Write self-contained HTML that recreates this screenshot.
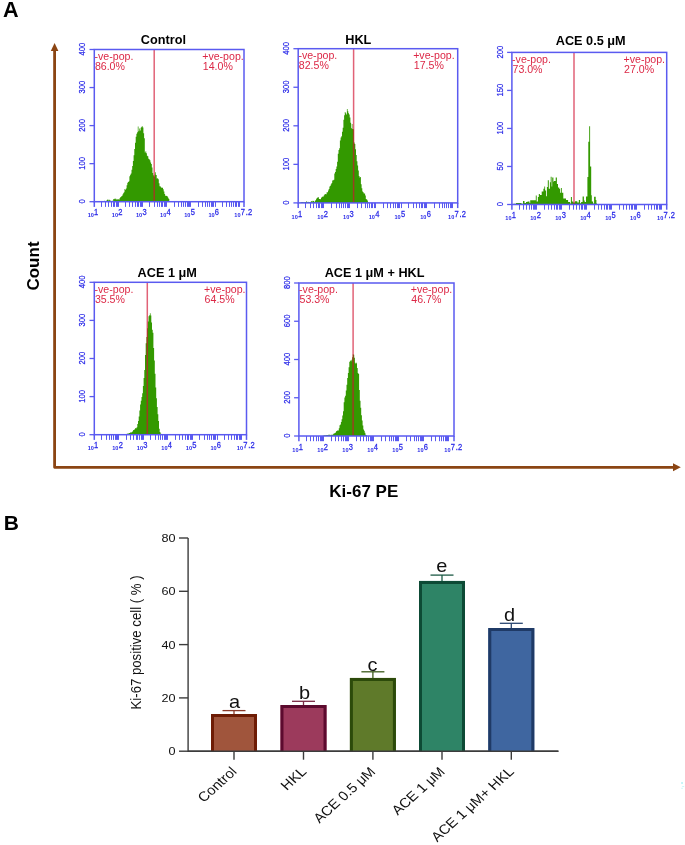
<!DOCTYPE html>
<html><head><meta charset="utf-8"><style>
html,body{margin:0;padding:0;background:#fff;}
svg{will-change:transform;}
body{width:685px;height:845px;position:relative;overflow:hidden;font-family:"Liberation Sans", sans-serif;}
</style></head><body>
<svg width="685" height="845" viewBox="0 0 685 845" style="position:absolute;left:0;top:0">
<text x="2.9" y="16.8" font-family='"Liberation Sans", sans-serif' font-weight="bold" font-size="21.6" fill="#000">A</text>
<text x="3.8" y="530.1" font-family='"Liberation Sans", sans-serif' font-weight="bold" font-size="21" fill="#000">B</text>
<path d="M54.6,50 L54.6,467.3 L673.5,467.3" fill="none" stroke="#8b4513" stroke-width="2.8" stroke-linejoin="round"/>
<path d="M50.8,51 L54.6,43 L58.4,51 Z" fill="#8b4513"/>
<path d="M673,463.3 L680.8,467.3 L673,471.2 Z" fill="#8b4513"/>
<text x="0" y="0" transform="translate(39.3,266) rotate(-90)" text-anchor="middle" font-family='"Liberation Sans", sans-serif' font-weight="bold" font-size="17" fill="#000">Count</text>
<text x="363.8" y="497.2" text-anchor="middle" font-family='"Liberation Sans", sans-serif' font-weight="bold" font-size="17" fill="#000">Ki-67 PE</text>
<path d="M103.50,201.70L103.50,201.00L104.20,201.00L104.20,200.78L104.90,200.78L104.90,200.89L105.60,200.89L105.60,200.99L106.30,200.99L106.30,200.52L107.00,200.52L107.00,199.76L107.70,199.76L107.70,199.59L108.40,199.59L108.40,200.53L109.10,200.53L109.10,199.87L109.80,199.87L109.80,200.57L110.50,200.57L110.50,200.68L111.20,200.68L111.20,200.88L111.90,200.88L111.90,201.12L112.60,201.12L112.60,200.40L113.30,200.40L113.30,199.11L114.00,199.11L114.00,198.65L114.70,198.65L114.70,199.25L115.40,199.25L115.40,198.56L116.10,198.56L116.10,199.41L116.80,199.41L116.80,199.36L117.50,199.36L117.50,199.38L118.20,199.38L118.20,199.35L118.90,199.35L118.90,199.42L119.60,199.42L119.60,197.90L120.30,197.90L120.30,196.99L121.00,196.99L121.00,196.50L121.70,196.50L121.70,195.94L122.40,195.94L122.40,194.53L123.10,194.53L123.10,193.32L123.80,193.32L123.80,192.27L124.50,192.27L124.50,189.10L125.20,189.10L125.20,189.67L125.90,189.67L125.90,188.41L126.60,188.41L126.60,185.35L127.30,185.35L127.30,182.73L128.00,182.73L128.00,182.07L128.70,182.07L128.70,181.16L129.40,181.16L129.40,176.14L130.10,176.14L130.10,174.71L130.80,174.71L130.80,173.39L131.50,173.39L131.50,169.82L132.20,169.82L132.20,165.88L132.90,165.88L132.90,161.07L133.60,161.07L133.60,155.23L134.30,155.23L134.30,148.92L135.00,148.92L135.00,142.65L135.70,142.65L135.70,136.80L136.40,136.80L136.40,133.84L137.10,133.84L137.10,132.13L137.80,132.13L137.80,126.38L138.50,126.38L138.50,131.34L139.20,131.34L139.20,128.57L139.90,128.57L139.90,130.62L140.60,130.62L140.60,127.82L141.30,127.82L141.30,126.80L142.00,126.80L142.00,126.21L142.70,126.21L142.70,127.48L143.40,127.48L143.40,133.30L144.10,133.30L144.10,138.21L144.80,138.21L144.80,152.47L145.50,152.47L145.50,151.27L146.20,151.27L146.20,153.34L146.90,153.34L146.90,155.66L147.60,155.66L147.60,156.21L148.30,156.21L148.30,158.73L149.00,158.73L149.00,159.15L149.70,159.15L149.70,160.20L150.40,160.20L150.40,162.59L151.10,162.59L151.10,163.90L151.80,163.90L151.80,167.48L152.50,167.48L152.50,172.99L153.20,172.99L153.20,175.27L153.90,175.27L153.90,176.53L154.60,176.53L154.60,174.78L155.30,174.78L155.30,172.29L156.00,172.29L156.00,174.88L156.70,174.88L156.70,178.41L157.40,178.41L157.40,178.17L158.10,178.17L158.10,179.18L158.80,179.18L158.80,183.23L159.50,183.23L159.50,186.18L160.20,186.18L160.20,186.57L160.90,186.57L160.90,187.52L161.60,187.52L161.60,187.75L162.30,187.75L162.30,187.80L163.00,187.80L163.00,189.34L163.70,189.34L163.70,191.57L164.40,191.57L164.40,194.10L165.10,194.10L165.10,195.74L165.80,195.74L165.80,195.69L166.50,195.69L166.50,196.00L167.20,196.00L167.20,196.38L167.90,196.38L167.90,197.84L168.60,197.84L168.60,198.93L169.30,198.93L169.30,201.10L169.80,201.10L169.80,201.70Z" fill="#339900"/>
<line x1="154.2" y1="49.5" x2="154.2" y2="201.7" stroke="rgb(209,17,48)" stroke-opacity="0.66" stroke-width="1.5"/>
<rect x="94.3" y="49.5" width="149.70" height="152.20" fill="none" stroke="#5a5af0" stroke-width="1.5"/>
<line x1="94.3" y1="201.7" x2="94.3" y2="206.89999999999998" stroke="#5a5af0" stroke-width="1.5"/>
<line x1="244.0" y1="201.7" x2="244.0" y2="206.89999999999998" stroke="#5a5af0" stroke-width="1.5"/>
<line x1="89.50" y1="201.70" x2="94.3" y2="201.70" stroke="#5a5af0" stroke-width="1.3"/>
<text transform="translate(84.90,201.40) rotate(-90) scale(0.83,1)" text-anchor="middle" font-family='"Liberation Sans", sans-serif' font-size="9.2" fill="#2a2ae8" stroke="#2a2ae8" stroke-width="0.25">0</text>
<line x1="89.50" y1="163.65" x2="94.3" y2="163.65" stroke="#5a5af0" stroke-width="1.3"/>
<text transform="translate(84.90,163.35) rotate(-90) scale(0.83,1)" text-anchor="middle" font-family='"Liberation Sans", sans-serif' font-size="9.2" fill="#2a2ae8" stroke="#2a2ae8" stroke-width="0.25">100</text>
<line x1="89.50" y1="125.60" x2="94.3" y2="125.60" stroke="#5a5af0" stroke-width="1.3"/>
<text transform="translate(84.90,125.30) rotate(-90) scale(0.83,1)" text-anchor="middle" font-family='"Liberation Sans", sans-serif' font-size="9.2" fill="#2a2ae8" stroke="#2a2ae8" stroke-width="0.25">200</text>
<line x1="89.50" y1="87.55" x2="94.3" y2="87.55" stroke="#5a5af0" stroke-width="1.3"/>
<text transform="translate(84.90,87.25) rotate(-90) scale(0.83,1)" text-anchor="middle" font-family='"Liberation Sans", sans-serif' font-size="9.2" fill="#2a2ae8" stroke="#2a2ae8" stroke-width="0.25">300</text>
<line x1="89.50" y1="49.50" x2="94.3" y2="49.50" stroke="#5a5af0" stroke-width="1.3"/>
<text transform="translate(84.90,49.20) rotate(-90) scale(0.83,1)" text-anchor="middle" font-family='"Liberation Sans", sans-serif' font-size="9.2" fill="#2a2ae8" stroke="#2a2ae8" stroke-width="0.25">400</text>
<path d="M101.50,201.7V206.90M105.50,201.7V206.90M108.50,201.7V206.90M111.50,201.7V206.90M113.50,201.7V206.90M114.50,201.7V206.90M116.50,201.7V206.90M117.50,201.7V206.90M118.50,201.7V206.90M125.50,201.7V206.90M129.50,201.7V206.90M132.50,201.7V206.90M135.50,201.7V206.90M137.50,201.7V206.90M138.50,201.7V206.90M140.50,201.7V206.90M141.50,201.7V206.90M142.50,201.7V206.90M149.50,201.7V206.90M154.50,201.7V206.90M157.50,201.7V206.90M159.50,201.7V206.90M161.50,201.7V206.90M162.50,201.7V206.90M164.50,201.7V206.90M165.50,201.7V206.90M166.50,201.7V206.90M174.50,201.7V206.90M178.50,201.7V206.90M181.50,201.7V206.90M183.50,201.7V206.90M185.50,201.7V206.90M187.50,201.7V206.90M188.50,201.7V206.90M189.50,201.7V206.90M190.50,201.7V206.90M198.50,201.7V206.90M202.50,201.7V206.90M205.50,201.7V206.90M207.50,201.7V206.90M209.50,201.7V206.90M211.50,201.7V206.90M212.50,201.7V206.90M213.50,201.7V206.90M215.50,201.7V206.90M222.50,201.7V206.90M226.50,201.7V206.90M229.50,201.7V206.90M231.50,201.7V206.90M233.50,201.7V206.90M235.50,201.7V206.90M236.50,201.7V206.90M238.50,201.7V206.90M239.50,201.7V206.90" stroke="#5a5af0" stroke-width="1" fill="none"/>
<text x="93.90" y="217.30" text-anchor="end" font-family='"Liberation Sans", sans-serif' font-weight="bold" font-size="5.6" fill="#2a2ae8">10</text>
<text transform="translate(94.10,215.30) scale(0.86,1)" font-family='"Liberation Sans", sans-serif' font-size="8.8" fill="#2a2ae8" stroke="#2a2ae8" stroke-width="0.25">1</text>
<text x="118.05" y="217.30" text-anchor="end" font-family='"Liberation Sans", sans-serif' font-weight="bold" font-size="5.6" fill="#2a2ae8">10</text>
<text transform="translate(118.25,215.30) scale(0.86,1)" font-family='"Liberation Sans", sans-serif' font-size="8.8" fill="#2a2ae8" stroke="#2a2ae8" stroke-width="0.25">2</text>
<text x="142.19" y="217.30" text-anchor="end" font-family='"Liberation Sans", sans-serif' font-weight="bold" font-size="5.6" fill="#2a2ae8">10</text>
<text transform="translate(142.39,215.30) scale(0.86,1)" font-family='"Liberation Sans", sans-serif' font-size="8.8" fill="#2a2ae8" stroke="#2a2ae8" stroke-width="0.25">3</text>
<text x="166.34" y="217.30" text-anchor="end" font-family='"Liberation Sans", sans-serif' font-weight="bold" font-size="5.6" fill="#2a2ae8">10</text>
<text transform="translate(166.54,215.30) scale(0.86,1)" font-family='"Liberation Sans", sans-serif' font-size="8.8" fill="#2a2ae8" stroke="#2a2ae8" stroke-width="0.25">4</text>
<text x="190.48" y="217.30" text-anchor="end" font-family='"Liberation Sans", sans-serif' font-weight="bold" font-size="5.6" fill="#2a2ae8">10</text>
<text transform="translate(190.68,215.30) scale(0.86,1)" font-family='"Liberation Sans", sans-serif' font-size="8.8" fill="#2a2ae8" stroke="#2a2ae8" stroke-width="0.25">5</text>
<text x="214.63" y="217.30" text-anchor="end" font-family='"Liberation Sans", sans-serif' font-weight="bold" font-size="5.6" fill="#2a2ae8">10</text>
<text transform="translate(214.83,215.30) scale(0.86,1)" font-family='"Liberation Sans", sans-serif' font-size="8.8" fill="#2a2ae8" stroke="#2a2ae8" stroke-width="0.25">6</text>
<text x="240.60" y="217.30" text-anchor="end" font-family='"Liberation Sans", sans-serif' font-weight="bold" font-size="5.6" fill="#2a2ae8">10</text>
<text transform="translate(240.80,215.30) scale(0.86,1)" font-family='"Liberation Sans", sans-serif' font-size="8.8" fill="#2a2ae8" stroke="#2a2ae8" stroke-width="0.25">7<tspan dx="1">.2</tspan></text>
<text x="94.50" y="59.90" font-family='"Liberation Sans", sans-serif' font-size="10.6" fill="#dc2846">-ve-pop.</text>
<text x="94.90" y="69.70" font-family='"Liberation Sans", sans-serif' font-size="10.6" fill="#dc2846">86.0%</text>
<text x="202.21" y="59.90" font-family='"Liberation Sans", sans-serif' font-size="10.6" fill="#dc2846">+ve-pop.</text>
<text x="202.81" y="69.70" font-family='"Liberation Sans", sans-serif' font-size="10.6" fill="#dc2846">14.0%</text>
<text x="163.4" y="44.3" text-anchor="middle" font-family='"Liberation Sans", sans-serif' font-weight="bold" font-size="12.7" fill="#000">Control</text>
<path d="M300.00,202.90L300.00,202.71L300.70,202.71L300.70,202.32L301.40,202.32L301.40,201.94L302.10,201.94L302.10,201.94L302.80,201.94L302.80,202.15L303.50,202.15L303.50,202.35L304.20,202.35L304.20,202.25L304.90,202.25L304.90,202.07L305.60,202.07L305.60,201.88L306.30,201.88L306.30,201.31L307.00,201.31L307.00,202.32L307.70,202.32L307.70,201.81L308.40,201.81L308.40,201.95L309.10,201.95L309.10,202.09L309.80,202.09L309.80,202.13L310.50,202.13L310.50,201.78L311.20,201.78L311.20,200.90L311.90,200.90L311.90,201.50L312.60,201.50L312.60,200.68L313.30,200.68L313.30,200.96L314.00,200.96L314.00,202.06L314.70,202.06L314.70,200.89L315.40,200.89L315.40,200.10L316.10,200.10L316.10,198.69L316.80,198.69L316.80,197.98L317.50,197.98L317.50,197.34L318.20,197.34L318.20,197.37L318.90,197.37L318.90,199.09L319.60,199.09L319.60,199.10L320.30,199.10L320.30,199.24L321.00,199.24L321.00,197.78L321.70,197.78L321.70,196.96L322.40,196.96L322.40,196.42L323.10,196.42L323.10,196.45L323.80,196.45L323.80,195.20L324.50,195.20L324.50,194.31L325.20,194.31L325.20,194.00L325.90,194.00L325.90,194.34L326.60,194.34L326.60,192.34L327.30,192.34L327.30,192.17L328.00,192.17L328.00,190.43L328.70,190.43L328.70,189.01L329.40,189.01L329.40,186.52L330.10,186.52L330.10,185.78L330.80,185.78L330.80,184.35L331.50,184.35L331.50,182.88L332.20,182.88L332.20,180.62L332.90,180.62L332.90,180.16L333.60,180.16L333.60,179.71L334.30,179.71L334.30,173.59L335.00,173.59L335.00,172.02L335.70,172.02L335.70,168.96L336.40,168.96L336.40,166.51L337.10,166.51L337.10,161.72L337.80,161.72L337.80,153.74L338.50,153.74L338.50,150.08L339.20,150.08L339.20,148.19L339.90,148.19L339.90,140.47L340.60,140.47L340.60,137.59L341.30,137.59L341.30,136.28L342.00,136.28L342.00,131.74L342.70,131.74L342.70,127.87L343.40,127.87L343.40,119.84L344.10,119.84L344.10,115.35L344.80,115.35L344.80,111.92L345.50,111.92L345.50,113.18L346.20,113.18L346.20,114.61L346.90,114.61L346.90,108.88L347.60,108.88L347.60,111.20L348.30,111.20L348.30,113.16L349.00,113.16L349.00,114.39L349.70,114.39L349.70,117.46L350.40,117.46L350.40,122.75L351.10,122.75L351.10,128.35L351.80,128.35L351.80,124.06L352.50,124.06L352.50,128.96L353.20,128.96L353.20,129.33L353.90,129.33L353.90,142.57L354.60,142.57L354.60,144.12L355.30,144.12L355.30,149.32L356.00,149.32L356.00,155.00L356.70,155.00L356.70,161.26L357.40,161.26L357.40,165.47L358.10,165.47L358.10,170.54L358.80,170.54L358.80,176.11L359.50,176.11L359.50,177.50L360.20,177.50L360.20,177.10L360.90,177.10L360.90,184.24L361.60,184.24L361.60,188.19L362.30,188.19L362.30,191.39L363.00,191.39L363.00,192.26L363.70,192.26L363.70,193.54L364.40,193.54L364.40,193.38L365.10,193.38L365.10,195.56L365.80,195.56L365.80,199.02L366.50,199.02L366.50,199.60L367.20,199.60L367.20,200.52L367.90,200.52L367.90,202.26L368.50,202.26L368.50,202.90Z" fill="#339900"/>
<line x1="353.6" y1="48.7" x2="353.6" y2="202.9" stroke="rgb(209,17,48)" stroke-opacity="0.66" stroke-width="1.5"/>
<rect x="298.2" y="48.7" width="159.50" height="154.20" fill="none" stroke="#5a5af0" stroke-width="1.5"/>
<line x1="298.2" y1="202.9" x2="298.2" y2="208.1" stroke="#5a5af0" stroke-width="1.5"/>
<line x1="457.7" y1="202.9" x2="457.7" y2="208.1" stroke="#5a5af0" stroke-width="1.5"/>
<line x1="293.40" y1="202.90" x2="298.2" y2="202.90" stroke="#5a5af0" stroke-width="1.3"/>
<text transform="translate(288.80,202.60) rotate(-90) scale(0.83,1)" text-anchor="middle" font-family='"Liberation Sans", sans-serif' font-size="9.2" fill="#2a2ae8" stroke="#2a2ae8" stroke-width="0.25">0</text>
<line x1="293.40" y1="164.35" x2="298.2" y2="164.35" stroke="#5a5af0" stroke-width="1.3"/>
<text transform="translate(288.80,164.05) rotate(-90) scale(0.83,1)" text-anchor="middle" font-family='"Liberation Sans", sans-serif' font-size="9.2" fill="#2a2ae8" stroke="#2a2ae8" stroke-width="0.25">100</text>
<line x1="293.40" y1="125.80" x2="298.2" y2="125.80" stroke="#5a5af0" stroke-width="1.3"/>
<text transform="translate(288.80,125.50) rotate(-90) scale(0.83,1)" text-anchor="middle" font-family='"Liberation Sans", sans-serif' font-size="9.2" fill="#2a2ae8" stroke="#2a2ae8" stroke-width="0.25">200</text>
<line x1="293.40" y1="87.25" x2="298.2" y2="87.25" stroke="#5a5af0" stroke-width="1.3"/>
<text transform="translate(288.80,86.95) rotate(-90) scale(0.83,1)" text-anchor="middle" font-family='"Liberation Sans", sans-serif' font-size="9.2" fill="#2a2ae8" stroke="#2a2ae8" stroke-width="0.25">300</text>
<line x1="293.40" y1="48.70" x2="298.2" y2="48.70" stroke="#5a5af0" stroke-width="1.3"/>
<text transform="translate(288.80,48.40) rotate(-90) scale(0.83,1)" text-anchor="middle" font-family='"Liberation Sans", sans-serif' font-size="9.2" fill="#2a2ae8" stroke="#2a2ae8" stroke-width="0.25">400</text>
<path d="M305.50,202.9V208.10M310.50,202.9V208.10M313.50,202.9V208.10M316.50,202.9V208.10M318.50,202.9V208.10M319.50,202.9V208.10M321.50,202.9V208.10M322.50,202.9V208.10M323.50,202.9V208.10M331.50,202.9V208.10M336.50,202.9V208.10M339.50,202.9V208.10M341.50,202.9V208.10M343.50,202.9V208.10M345.50,202.9V208.10M347.50,202.9V208.10M348.50,202.9V208.10M349.50,202.9V208.10M357.50,202.9V208.10M361.50,202.9V208.10M365.50,202.9V208.10M367.50,202.9V208.10M369.50,202.9V208.10M371.50,202.9V208.10M372.50,202.9V208.10M374.50,202.9V208.10M375.50,202.9V208.10M383.50,202.9V208.10M387.50,202.9V208.10M390.50,202.9V208.10M393.50,202.9V208.10M395.50,202.9V208.10M397.50,202.9V208.10M398.50,202.9V208.10M399.50,202.9V208.10M401.50,202.9V208.10M408.50,202.9V208.10M413.50,202.9V208.10M416.50,202.9V208.10M419.50,202.9V208.10M421.50,202.9V208.10M422.50,202.9V208.10M424.50,202.9V208.10M425.50,202.9V208.10M426.50,202.9V208.10M434.50,202.9V208.10M439.50,202.9V208.10M442.50,202.9V208.10M444.50,202.9V208.10M446.50,202.9V208.10M448.50,202.9V208.10M450.50,202.9V208.10M451.50,202.9V208.10M452.50,202.9V208.10" stroke="#5a5af0" stroke-width="1" fill="none"/>
<text x="297.80" y="218.50" text-anchor="end" font-family='"Liberation Sans", sans-serif' font-weight="bold" font-size="5.6" fill="#2a2ae8">10</text>
<text transform="translate(298.00,216.50) scale(0.86,1)" font-family='"Liberation Sans", sans-serif' font-size="8.8" fill="#2a2ae8" stroke="#2a2ae8" stroke-width="0.25">1</text>
<text x="323.53" y="218.50" text-anchor="end" font-family='"Liberation Sans", sans-serif' font-weight="bold" font-size="5.6" fill="#2a2ae8">10</text>
<text transform="translate(323.73,216.50) scale(0.86,1)" font-family='"Liberation Sans", sans-serif' font-size="8.8" fill="#2a2ae8" stroke="#2a2ae8" stroke-width="0.25">2</text>
<text x="349.25" y="218.50" text-anchor="end" font-family='"Liberation Sans", sans-serif' font-weight="bold" font-size="5.6" fill="#2a2ae8">10</text>
<text transform="translate(349.45,216.50) scale(0.86,1)" font-family='"Liberation Sans", sans-serif' font-size="8.8" fill="#2a2ae8" stroke="#2a2ae8" stroke-width="0.25">3</text>
<text x="374.98" y="218.50" text-anchor="end" font-family='"Liberation Sans", sans-serif' font-weight="bold" font-size="5.6" fill="#2a2ae8">10</text>
<text transform="translate(375.18,216.50) scale(0.86,1)" font-family='"Liberation Sans", sans-serif' font-size="8.8" fill="#2a2ae8" stroke="#2a2ae8" stroke-width="0.25">4</text>
<text x="400.70" y="218.50" text-anchor="end" font-family='"Liberation Sans", sans-serif' font-weight="bold" font-size="5.6" fill="#2a2ae8">10</text>
<text transform="translate(400.90,216.50) scale(0.86,1)" font-family='"Liberation Sans", sans-serif' font-size="8.8" fill="#2a2ae8" stroke="#2a2ae8" stroke-width="0.25">5</text>
<text x="426.43" y="218.50" text-anchor="end" font-family='"Liberation Sans", sans-serif' font-weight="bold" font-size="5.6" fill="#2a2ae8">10</text>
<text transform="translate(426.63,216.50) scale(0.86,1)" font-family='"Liberation Sans", sans-serif' font-size="8.8" fill="#2a2ae8" stroke="#2a2ae8" stroke-width="0.25">6</text>
<text x="454.30" y="218.50" text-anchor="end" font-family='"Liberation Sans", sans-serif' font-weight="bold" font-size="5.6" fill="#2a2ae8">10</text>
<text transform="translate(454.50,216.50) scale(0.86,1)" font-family='"Liberation Sans", sans-serif' font-size="8.8" fill="#2a2ae8" stroke="#2a2ae8" stroke-width="0.25">7<tspan dx="1">.2</tspan></text>
<text x="298.40" y="59.10" font-family='"Liberation Sans", sans-serif' font-size="10.6" fill="#dc2846">-ve-pop.</text>
<text x="298.80" y="68.90" font-family='"Liberation Sans", sans-serif' font-size="10.6" fill="#dc2846">82.5%</text>
<text x="413.20" y="59.10" font-family='"Liberation Sans", sans-serif' font-size="10.6" fill="#dc2846">+ve-pop.</text>
<text x="413.80" y="68.90" font-family='"Liberation Sans", sans-serif' font-size="10.6" fill="#dc2846">17.5%</text>
<text x="358.3" y="44.3" text-anchor="middle" font-family='"Liberation Sans", sans-serif' font-weight="bold" font-size="12.7" fill="#000">HKL</text>
<path d="M513.5,204.5L513.5,203.7L516,203.7L516,203.1L518,203.1L518,202.9L521.5,202.9L521.5,203.7L523,203.7L523,201.0L524.5,201.0L524.5,203.0L526,203.0L526,202.0L527.5,202.0L527.5,201.6L529.5,201.6L529.5,203L530.2,203L530.2,200.3L535.8,200.3L535.8,195.4L536.7,195.4L536.7,201.5L537.9,201.5L537.9,196.9L538.8,196.9L538.8,194L539.9,194L539.9,195.1L541.7,195.1L541.7,191.6L543.4,191.6L543.4,188.7L544.3,188.7L544.3,186.6L545.1,186.6L545.1,190.4L546.1,190.4L546.1,196.3L546.9,196.3L546.9,186.9L547.8,186.9L547.8,180.2L548.8,180.2L548.8,188.7L549.9,188.7L549.9,182.3L550.7,182.3L550.7,176.7L551.6,176.7L551.6,186.4L552.2,186.4L552.2,177.6L553.4,177.6L553.4,181.7L553.9,181.7L553.9,181.1L555.7,181.1L555.7,177.6L556.9,177.6L556.9,184L558,184L558,187.5L559.2,187.5L559.2,188.7L560.1,188.7L560.1,192.8L560.9,192.8L560.9,188.1L561.8,188.1L561.8,192.8L563.3,192.8L563.3,198.6L565,198.6L565,198.4L566,198.4L566,199.9L568.1,199.9L568.1,202L570.1,202L570.1,203.5L570.9,203.5L570.9,197.1L571.9,197.1L571.9,201.5L573.2,201.5L573.2,202.5L575,202.5L575,201.2L577.3,201.2L577.3,202.5L578.8,202.5L578.8,199.9L580.1,199.9L580.1,203.2L581.1,203.2L581.1,202L582.6,202L582.6,196.4L583.9,196.4L583.9,200.4L584.7,200.4L584.7,202L586,202L586,196.4L587.4,196.4L587.4,176.9L588.3,176.9L588.3,141.8L589.2,141.8L589.2,126.2L590.1,126.2L590.1,166.4L591.2,166.4L591.2,195.3L591.8,195.3L591.8,201.5L593.1,201.5L593.1,203.5L594.1,203.5L594.1,196.8L595.7,196.8L595.7,199.9L596.4,199.9L596.4,203.5L597,203.5L597,204.5Z" fill="#339900"/>
<line x1="574.0" y1="52.4" x2="574.0" y2="204.5" stroke="rgb(209,17,48)" stroke-opacity="0.66" stroke-width="1.5"/>
<rect x="511.9" y="52.4" width="154.80" height="152.10" fill="none" stroke="#5a5af0" stroke-width="1.5"/>
<line x1="511.9" y1="204.5" x2="511.9" y2="209.7" stroke="#5a5af0" stroke-width="1.5"/>
<line x1="666.7" y1="204.5" x2="666.7" y2="209.7" stroke="#5a5af0" stroke-width="1.5"/>
<line x1="507.10" y1="204.50" x2="511.9" y2="204.50" stroke="#5a5af0" stroke-width="1.3"/>
<text transform="translate(502.50,204.20) rotate(-90) scale(0.83,1)" text-anchor="middle" font-family='"Liberation Sans", sans-serif' font-size="9.2" fill="#2a2ae8" stroke="#2a2ae8" stroke-width="0.25">0</text>
<line x1="507.10" y1="166.47" x2="511.9" y2="166.47" stroke="#5a5af0" stroke-width="1.3"/>
<text transform="translate(502.50,166.17) rotate(-90) scale(0.83,1)" text-anchor="middle" font-family='"Liberation Sans", sans-serif' font-size="9.2" fill="#2a2ae8" stroke="#2a2ae8" stroke-width="0.25">50</text>
<line x1="507.10" y1="128.45" x2="511.9" y2="128.45" stroke="#5a5af0" stroke-width="1.3"/>
<text transform="translate(502.50,128.15) rotate(-90) scale(0.83,1)" text-anchor="middle" font-family='"Liberation Sans", sans-serif' font-size="9.2" fill="#2a2ae8" stroke="#2a2ae8" stroke-width="0.25">100</text>
<line x1="507.10" y1="90.42" x2="511.9" y2="90.42" stroke="#5a5af0" stroke-width="1.3"/>
<text transform="translate(502.50,90.12) rotate(-90) scale(0.83,1)" text-anchor="middle" font-family='"Liberation Sans", sans-serif' font-size="9.2" fill="#2a2ae8" stroke="#2a2ae8" stroke-width="0.25">150</text>
<line x1="507.10" y1="52.40" x2="511.9" y2="52.40" stroke="#5a5af0" stroke-width="1.3"/>
<text transform="translate(502.50,52.10) rotate(-90) scale(0.83,1)" text-anchor="middle" font-family='"Liberation Sans", sans-serif' font-size="9.2" fill="#2a2ae8" stroke="#2a2ae8" stroke-width="0.25">200</text>
<path d="M519.50,204.5V209.70M523.50,204.5V209.70M526.50,204.5V209.70M529.50,204.5V209.70M531.50,204.5V209.70M533.50,204.5V209.70M534.50,204.5V209.70M535.50,204.5V209.70M536.50,204.5V209.70M544.50,204.5V209.70M548.50,204.5V209.70M551.50,204.5V209.70M554.50,204.5V209.70M556.50,204.5V209.70M557.50,204.5V209.70M559.50,204.5V209.70M560.50,204.5V209.70M561.50,204.5V209.70M569.50,204.5V209.70M573.50,204.5V209.70M576.50,204.5V209.70M579.50,204.5V209.70M581.50,204.5V209.70M582.50,204.5V209.70M584.50,204.5V209.70M585.50,204.5V209.70M586.50,204.5V209.70M594.50,204.5V209.70M598.50,204.5V209.70M601.50,204.5V209.70M604.50,204.5V209.70M606.50,204.5V209.70M607.50,204.5V209.70M609.50,204.5V209.70M610.50,204.5V209.70M611.50,204.5V209.70M619.50,204.5V209.70M623.50,204.5V209.70M626.50,204.5V209.70M629.50,204.5V209.70M631.50,204.5V209.70M632.50,204.5V209.70M634.50,204.5V209.70M635.50,204.5V209.70M636.50,204.5V209.70M644.50,204.5V209.70M648.50,204.5V209.70M651.50,204.5V209.70M654.50,204.5V209.70M656.50,204.5V209.70M657.50,204.5V209.70M659.50,204.5V209.70M660.50,204.5V209.70M661.50,204.5V209.70" stroke="#5a5af0" stroke-width="1" fill="none"/>
<text x="511.50" y="220.10" text-anchor="end" font-family='"Liberation Sans", sans-serif' font-weight="bold" font-size="5.6" fill="#2a2ae8">10</text>
<text transform="translate(511.70,218.10) scale(0.86,1)" font-family='"Liberation Sans", sans-serif' font-size="8.8" fill="#2a2ae8" stroke="#2a2ae8" stroke-width="0.25">1</text>
<text x="536.47" y="220.10" text-anchor="end" font-family='"Liberation Sans", sans-serif' font-weight="bold" font-size="5.6" fill="#2a2ae8">10</text>
<text transform="translate(536.67,218.10) scale(0.86,1)" font-family='"Liberation Sans", sans-serif' font-size="8.8" fill="#2a2ae8" stroke="#2a2ae8" stroke-width="0.25">2</text>
<text x="561.44" y="220.10" text-anchor="end" font-family='"Liberation Sans", sans-serif' font-weight="bold" font-size="5.6" fill="#2a2ae8">10</text>
<text transform="translate(561.64,218.10) scale(0.86,1)" font-family='"Liberation Sans", sans-serif' font-size="8.8" fill="#2a2ae8" stroke="#2a2ae8" stroke-width="0.25">3</text>
<text x="586.40" y="220.10" text-anchor="end" font-family='"Liberation Sans", sans-serif' font-weight="bold" font-size="5.6" fill="#2a2ae8">10</text>
<text transform="translate(586.60,218.10) scale(0.86,1)" font-family='"Liberation Sans", sans-serif' font-size="8.8" fill="#2a2ae8" stroke="#2a2ae8" stroke-width="0.25">4</text>
<text x="611.37" y="220.10" text-anchor="end" font-family='"Liberation Sans", sans-serif' font-weight="bold" font-size="5.6" fill="#2a2ae8">10</text>
<text transform="translate(611.57,218.10) scale(0.86,1)" font-family='"Liberation Sans", sans-serif' font-size="8.8" fill="#2a2ae8" stroke="#2a2ae8" stroke-width="0.25">5</text>
<text x="636.34" y="220.10" text-anchor="end" font-family='"Liberation Sans", sans-serif' font-weight="bold" font-size="5.6" fill="#2a2ae8">10</text>
<text transform="translate(636.54,218.10) scale(0.86,1)" font-family='"Liberation Sans", sans-serif' font-size="8.8" fill="#2a2ae8" stroke="#2a2ae8" stroke-width="0.25">6</text>
<text x="663.30" y="220.10" text-anchor="end" font-family='"Liberation Sans", sans-serif' font-weight="bold" font-size="5.6" fill="#2a2ae8">10</text>
<text transform="translate(663.50,218.10) scale(0.86,1)" font-family='"Liberation Sans", sans-serif' font-size="8.8" fill="#2a2ae8" stroke="#2a2ae8" stroke-width="0.25">7<tspan dx="1">.2</tspan></text>
<text x="512.10" y="62.80" font-family='"Liberation Sans", sans-serif' font-size="10.6" fill="#dc2846">-ve-pop.</text>
<text x="512.50" y="72.60" font-family='"Liberation Sans", sans-serif' font-size="10.6" fill="#dc2846">73.0%</text>
<text x="623.50" y="62.80" font-family='"Liberation Sans", sans-serif' font-size="10.6" fill="#dc2846">+ve-pop.</text>
<text x="624.10" y="72.60" font-family='"Liberation Sans", sans-serif' font-size="10.6" fill="#dc2846">27.0%</text>
<text x="590.7" y="45.3" text-anchor="middle" font-family='"Liberation Sans", sans-serif' font-weight="bold" font-size="12.7" fill="#000">ACE 0.5 μM</text>
<path d="M124.00,434.70L124.00,434.59L124.70,434.59L124.70,434.38L125.40,434.38L125.40,434.16L126.10,434.16L126.10,433.95L126.80,433.95L126.80,433.73L127.50,433.73L127.50,433.51L128.20,433.51L128.20,433.40L128.90,433.40L128.90,432.98L129.60,432.98L129.60,432.97L130.30,432.97L130.30,432.23L131.00,432.23L131.00,432.60L131.70,432.60L131.70,432.05L132.40,432.05L132.40,431.25L133.10,431.25L133.10,429.99L133.80,429.99L133.80,429.93L134.50,429.93L134.50,429.10L135.20,429.10L135.20,428.09L135.90,428.09L135.90,428.15L136.60,428.15L136.60,427.29L137.30,427.29L137.30,423.89L138.00,423.89L138.00,420.92L138.70,420.92L138.70,416.44L139.40,416.44L139.40,410.47L140.10,410.47L140.10,404.56L140.80,404.56L140.80,400.85L141.50,400.85L141.50,397.12L142.20,397.12L142.20,393.20L142.90,393.20L142.90,385.91L143.60,385.91L143.60,377.90L144.30,377.90L144.30,369.90L145.00,369.90L145.00,354.88L145.70,354.88L145.70,343.27L146.40,343.27L146.40,337.09L147.10,337.09L147.10,328.27L147.80,328.27L147.80,321.52L148.50,321.52L148.50,316.34L149.20,316.34L149.20,315.22L149.90,315.22L149.90,313.19L150.60,313.19L150.60,315.59L151.30,315.59L151.30,322.56L152.00,322.56L152.00,329.73L152.70,329.73L152.70,332.70L153.40,332.70L153.40,347.89L154.10,347.89L154.10,360.62L154.80,360.62L154.80,373.68L155.50,373.68L155.50,387.53L156.20,387.53L156.20,398.17L156.90,398.17L156.90,406.98L157.60,406.98L157.60,414.35L158.30,414.35L158.30,420.98L159.00,420.98L159.00,428.78L159.70,428.78L159.70,431.97L160.40,431.97L160.40,433.62L161.10,433.62L161.10,434.41L161.50,434.41L161.50,434.70Z" fill="#339900"/>
<line x1="147.3" y1="282.3" x2="147.3" y2="434.7" stroke="rgb(209,17,48)" stroke-opacity="0.66" stroke-width="1.5"/>
<rect x="94.3" y="282.3" width="152.20" height="152.40" fill="none" stroke="#5a5af0" stroke-width="1.5"/>
<line x1="94.3" y1="434.7" x2="94.3" y2="439.9" stroke="#5a5af0" stroke-width="1.5"/>
<line x1="246.5" y1="434.7" x2="246.5" y2="439.9" stroke="#5a5af0" stroke-width="1.5"/>
<line x1="89.50" y1="434.70" x2="94.3" y2="434.70" stroke="#5a5af0" stroke-width="1.3"/>
<text transform="translate(84.90,434.40) rotate(-90) scale(0.83,1)" text-anchor="middle" font-family='"Liberation Sans", sans-serif' font-size="9.2" fill="#2a2ae8" stroke="#2a2ae8" stroke-width="0.25">0</text>
<line x1="89.50" y1="396.60" x2="94.3" y2="396.60" stroke="#5a5af0" stroke-width="1.3"/>
<text transform="translate(84.90,396.30) rotate(-90) scale(0.83,1)" text-anchor="middle" font-family='"Liberation Sans", sans-serif' font-size="9.2" fill="#2a2ae8" stroke="#2a2ae8" stroke-width="0.25">100</text>
<line x1="89.50" y1="358.50" x2="94.3" y2="358.50" stroke="#5a5af0" stroke-width="1.3"/>
<text transform="translate(84.90,358.20) rotate(-90) scale(0.83,1)" text-anchor="middle" font-family='"Liberation Sans", sans-serif' font-size="9.2" fill="#2a2ae8" stroke="#2a2ae8" stroke-width="0.25">200</text>
<line x1="89.50" y1="320.40" x2="94.3" y2="320.40" stroke="#5a5af0" stroke-width="1.3"/>
<text transform="translate(84.90,320.10) rotate(-90) scale(0.83,1)" text-anchor="middle" font-family='"Liberation Sans", sans-serif' font-size="9.2" fill="#2a2ae8" stroke="#2a2ae8" stroke-width="0.25">300</text>
<line x1="89.50" y1="282.30" x2="94.3" y2="282.30" stroke="#5a5af0" stroke-width="1.3"/>
<text transform="translate(84.90,282.00) rotate(-90) scale(0.83,1)" text-anchor="middle" font-family='"Liberation Sans", sans-serif' font-size="9.2" fill="#2a2ae8" stroke="#2a2ae8" stroke-width="0.25">400</text>
<path d="M101.50,434.7V439.90M106.50,434.7V439.90M109.50,434.7V439.90M111.50,434.7V439.90M113.50,434.7V439.90M115.50,434.7V439.90M116.50,434.7V439.90M117.50,434.7V439.90M118.50,434.7V439.90M126.50,434.7V439.90M130.50,434.7V439.90M133.50,434.7V439.90M136.50,434.7V439.90M137.50,434.7V439.90M139.50,434.7V439.90M141.50,434.7V439.90M142.50,434.7V439.90M143.50,434.7V439.90M150.50,434.7V439.90M155.50,434.7V439.90M158.50,434.7V439.90M160.50,434.7V439.90M162.50,434.7V439.90M164.50,434.7V439.90M165.50,434.7V439.90M166.50,434.7V439.90M167.50,434.7V439.90M175.50,434.7V439.90M179.50,434.7V439.90M182.50,434.7V439.90M185.50,434.7V439.90M187.50,434.7V439.90M188.50,434.7V439.90M190.50,434.7V439.90M191.50,434.7V439.90M192.50,434.7V439.90M199.50,434.7V439.90M204.50,434.7V439.90M207.50,434.7V439.90M209.50,434.7V439.90M211.50,434.7V439.90M213.50,434.7V439.90M214.50,434.7V439.90M215.50,434.7V439.90M217.50,434.7V439.90M224.50,434.7V439.90M228.50,434.7V439.90M231.50,434.7V439.90M234.50,434.7V439.90M236.50,434.7V439.90M237.50,434.7V439.90M239.50,434.7V439.90M240.50,434.7V439.90M241.50,434.7V439.90" stroke="#5a5af0" stroke-width="1" fill="none"/>
<text x="93.90" y="450.30" text-anchor="end" font-family='"Liberation Sans", sans-serif' font-weight="bold" font-size="5.6" fill="#2a2ae8">10</text>
<text transform="translate(94.10,448.30) scale(0.86,1)" font-family='"Liberation Sans", sans-serif' font-size="8.8" fill="#2a2ae8" stroke="#2a2ae8" stroke-width="0.25">1</text>
<text x="118.45" y="450.30" text-anchor="end" font-family='"Liberation Sans", sans-serif' font-weight="bold" font-size="5.6" fill="#2a2ae8">10</text>
<text transform="translate(118.65,448.30) scale(0.86,1)" font-family='"Liberation Sans", sans-serif' font-size="8.8" fill="#2a2ae8" stroke="#2a2ae8" stroke-width="0.25">2</text>
<text x="143.00" y="450.30" text-anchor="end" font-family='"Liberation Sans", sans-serif' font-weight="bold" font-size="5.6" fill="#2a2ae8">10</text>
<text transform="translate(143.20,448.30) scale(0.86,1)" font-family='"Liberation Sans", sans-serif' font-size="8.8" fill="#2a2ae8" stroke="#2a2ae8" stroke-width="0.25">3</text>
<text x="167.55" y="450.30" text-anchor="end" font-family='"Liberation Sans", sans-serif' font-weight="bold" font-size="5.6" fill="#2a2ae8">10</text>
<text transform="translate(167.75,448.30) scale(0.86,1)" font-family='"Liberation Sans", sans-serif' font-size="8.8" fill="#2a2ae8" stroke="#2a2ae8" stroke-width="0.25">4</text>
<text x="192.09" y="450.30" text-anchor="end" font-family='"Liberation Sans", sans-serif' font-weight="bold" font-size="5.6" fill="#2a2ae8">10</text>
<text transform="translate(192.29,448.30) scale(0.86,1)" font-family='"Liberation Sans", sans-serif' font-size="8.8" fill="#2a2ae8" stroke="#2a2ae8" stroke-width="0.25">5</text>
<text x="216.64" y="450.30" text-anchor="end" font-family='"Liberation Sans", sans-serif' font-weight="bold" font-size="5.6" fill="#2a2ae8">10</text>
<text transform="translate(216.84,448.30) scale(0.86,1)" font-family='"Liberation Sans", sans-serif' font-size="8.8" fill="#2a2ae8" stroke="#2a2ae8" stroke-width="0.25">6</text>
<text x="243.10" y="450.30" text-anchor="end" font-family='"Liberation Sans", sans-serif' font-weight="bold" font-size="5.6" fill="#2a2ae8">10</text>
<text transform="translate(243.30,448.30) scale(0.86,1)" font-family='"Liberation Sans", sans-serif' font-size="8.8" fill="#2a2ae8" stroke="#2a2ae8" stroke-width="0.25">7<tspan dx="1">.2</tspan></text>
<text x="94.50" y="292.70" font-family='"Liberation Sans", sans-serif' font-size="10.6" fill="#dc2846">-ve-pop.</text>
<text x="94.90" y="302.50" font-family='"Liberation Sans", sans-serif' font-size="10.6" fill="#dc2846">35.5%</text>
<text x="204.02" y="292.70" font-family='"Liberation Sans", sans-serif' font-size="10.6" fill="#dc2846">+ve-pop.</text>
<text x="204.62" y="302.50" font-family='"Liberation Sans", sans-serif' font-size="10.6" fill="#dc2846">64.5%</text>
<text x="167.2" y="276.5" text-anchor="middle" font-family='"Liberation Sans", sans-serif' font-weight="bold" font-size="12.7" fill="#000">ACE 1 μM</text>
<path d="M322.00,436.00L322.00,435.91L322.70,435.91L322.70,435.73L323.40,435.73L323.40,435.55L324.10,435.55L324.10,435.36L324.80,435.36L324.80,435.24L325.50,435.24L325.50,435.16L326.20,435.16L326.20,435.07L326.90,435.07L326.90,434.98L327.60,434.98L327.60,434.89L328.30,434.89L328.30,434.81L329.00,434.81L329.00,434.65L329.70,434.65L329.70,434.78L330.40,434.78L330.40,435.29L331.10,435.29L331.10,434.65L331.80,434.65L331.80,434.71L332.50,434.71L332.50,434.82L333.20,434.82L333.20,433.71L333.90,433.71L333.90,433.47L334.60,433.47L334.60,432.93L335.30,432.93L335.30,432.55L336.00,432.55L336.00,431.14L336.70,431.14L336.70,431.00L337.40,431.00L337.40,430.27L338.10,430.27L338.10,430.49L338.80,430.49L338.80,428.27L339.50,428.27L339.50,425.29L340.20,425.29L340.20,424.40L340.90,424.40L340.90,422.08L341.60,422.08L341.60,419.25L342.30,419.25L342.30,415.50L343.00,415.50L343.00,411.17L343.70,411.17L343.70,402.24L344.40,402.24L344.40,397.55L345.10,397.55L345.10,395.79L345.80,395.79L345.80,390.43L346.50,390.43L346.50,384.63L347.20,384.63L347.20,377.95L347.90,377.95L347.90,373.12L348.60,373.12L348.60,367.24L349.30,367.24L349.30,361.85L350.00,361.85L350.00,360.54L350.70,360.54L350.70,361.23L351.40,361.23L351.40,359.84L352.10,359.84L352.10,357.14L352.80,357.14L352.80,354.19L353.50,354.19L353.50,354.64L354.20,354.64L354.20,357.83L354.90,357.83L354.90,362.66L355.60,362.66L355.60,363.73L356.30,363.73L356.30,362.84L357.00,362.84L357.00,367.98L357.70,367.98L357.70,372.92L358.40,372.92L358.40,373.94L359.10,373.94L359.10,390.03L359.80,390.03L359.80,400.78L360.50,400.78L360.50,407.85L361.20,407.85L361.20,415.36L361.90,415.36L361.90,420.61L362.60,420.61L362.60,425.54L363.30,425.54L363.30,429.50L364.00,429.50L364.00,430.67L364.70,430.67L364.70,432.83L365.40,432.83L365.40,434.81L366.10,434.81L366.10,435.35L366.80,435.35L366.80,435.81L367.30,435.81L367.30,436.00Z" fill="#339900"/>
<line x1="353.1" y1="283.0" x2="353.1" y2="436.0" stroke="rgb(209,17,48)" stroke-opacity="0.66" stroke-width="1.5"/>
<rect x="298.9" y="283.0" width="155.10" height="153.00" fill="none" stroke="#5a5af0" stroke-width="1.5"/>
<line x1="298.9" y1="436.0" x2="298.9" y2="441.2" stroke="#5a5af0" stroke-width="1.5"/>
<line x1="454.0" y1="436.0" x2="454.0" y2="441.2" stroke="#5a5af0" stroke-width="1.5"/>
<line x1="294.10" y1="436.00" x2="298.9" y2="436.00" stroke="#5a5af0" stroke-width="1.3"/>
<text transform="translate(289.50,435.70) rotate(-90) scale(0.83,1)" text-anchor="middle" font-family='"Liberation Sans", sans-serif' font-size="9.2" fill="#2a2ae8" stroke="#2a2ae8" stroke-width="0.25">0</text>
<line x1="294.10" y1="397.75" x2="298.9" y2="397.75" stroke="#5a5af0" stroke-width="1.3"/>
<text transform="translate(289.50,397.45) rotate(-90) scale(0.83,1)" text-anchor="middle" font-family='"Liberation Sans", sans-serif' font-size="9.2" fill="#2a2ae8" stroke="#2a2ae8" stroke-width="0.25">200</text>
<line x1="294.10" y1="359.50" x2="298.9" y2="359.50" stroke="#5a5af0" stroke-width="1.3"/>
<text transform="translate(289.50,359.20) rotate(-90) scale(0.83,1)" text-anchor="middle" font-family='"Liberation Sans", sans-serif' font-size="9.2" fill="#2a2ae8" stroke="#2a2ae8" stroke-width="0.25">400</text>
<line x1="294.10" y1="321.25" x2="298.9" y2="321.25" stroke="#5a5af0" stroke-width="1.3"/>
<text transform="translate(289.50,320.95) rotate(-90) scale(0.83,1)" text-anchor="middle" font-family='"Liberation Sans", sans-serif' font-size="9.2" fill="#2a2ae8" stroke="#2a2ae8" stroke-width="0.25">600</text>
<line x1="294.10" y1="283.00" x2="298.9" y2="283.00" stroke="#5a5af0" stroke-width="1.3"/>
<text transform="translate(289.50,282.70) rotate(-90) scale(0.83,1)" text-anchor="middle" font-family='"Liberation Sans", sans-serif' font-size="9.2" fill="#2a2ae8" stroke="#2a2ae8" stroke-width="0.25">800</text>
<path d="M306.50,436.0V441.20M310.50,436.0V441.20M313.50,436.0V441.20M316.50,436.0V441.20M318.50,436.0V441.20M320.50,436.0V441.20M321.50,436.0V441.20M322.50,436.0V441.20M323.50,436.0V441.20M331.50,436.0V441.20M335.50,436.0V441.20M338.50,436.0V441.20M341.50,436.0V441.20M343.50,436.0V441.20M345.50,436.0V441.20M346.50,436.0V441.20M347.50,436.0V441.20M348.50,436.0V441.20M356.50,436.0V441.20M360.50,436.0V441.20M363.50,436.0V441.20M366.50,436.0V441.20M368.50,436.0V441.20M370.50,436.0V441.20M371.50,436.0V441.20M372.50,436.0V441.20M373.50,436.0V441.20M381.50,436.0V441.20M385.50,436.0V441.20M389.50,436.0V441.20M391.50,436.0V441.20M393.50,436.0V441.20M395.50,436.0V441.20M396.50,436.0V441.20M397.50,436.0V441.20M398.50,436.0V441.20M406.50,436.0V441.20M410.50,436.0V441.20M414.50,436.0V441.20M416.50,436.0V441.20M418.50,436.0V441.20M420.50,436.0V441.20M421.50,436.0V441.20M422.50,436.0V441.20M423.50,436.0V441.20M431.50,436.0V441.20M435.50,436.0V441.20M439.50,436.0V441.20M441.50,436.0V441.20M443.50,436.0V441.20M445.50,436.0V441.20M446.50,436.0V441.20M447.50,436.0V441.20M448.50,436.0V441.20" stroke="#5a5af0" stroke-width="1" fill="none"/>
<text x="298.50" y="451.60" text-anchor="end" font-family='"Liberation Sans", sans-serif' font-weight="bold" font-size="5.6" fill="#2a2ae8">10</text>
<text transform="translate(298.70,449.60) scale(0.86,1)" font-family='"Liberation Sans", sans-serif' font-size="8.8" fill="#2a2ae8" stroke="#2a2ae8" stroke-width="0.25">1</text>
<text x="323.52" y="451.60" text-anchor="end" font-family='"Liberation Sans", sans-serif' font-weight="bold" font-size="5.6" fill="#2a2ae8">10</text>
<text transform="translate(323.72,449.60) scale(0.86,1)" font-family='"Liberation Sans", sans-serif' font-size="8.8" fill="#2a2ae8" stroke="#2a2ae8" stroke-width="0.25">2</text>
<text x="348.53" y="451.60" text-anchor="end" font-family='"Liberation Sans", sans-serif' font-weight="bold" font-size="5.6" fill="#2a2ae8">10</text>
<text transform="translate(348.73,449.60) scale(0.86,1)" font-family='"Liberation Sans", sans-serif' font-size="8.8" fill="#2a2ae8" stroke="#2a2ae8" stroke-width="0.25">3</text>
<text x="373.55" y="451.60" text-anchor="end" font-family='"Liberation Sans", sans-serif' font-weight="bold" font-size="5.6" fill="#2a2ae8">10</text>
<text transform="translate(373.75,449.60) scale(0.86,1)" font-family='"Liberation Sans", sans-serif' font-size="8.8" fill="#2a2ae8" stroke="#2a2ae8" stroke-width="0.25">4</text>
<text x="398.56" y="451.60" text-anchor="end" font-family='"Liberation Sans", sans-serif' font-weight="bold" font-size="5.6" fill="#2a2ae8">10</text>
<text transform="translate(398.76,449.60) scale(0.86,1)" font-family='"Liberation Sans", sans-serif' font-size="8.8" fill="#2a2ae8" stroke="#2a2ae8" stroke-width="0.25">5</text>
<text x="423.58" y="451.60" text-anchor="end" font-family='"Liberation Sans", sans-serif' font-weight="bold" font-size="5.6" fill="#2a2ae8">10</text>
<text transform="translate(423.78,449.60) scale(0.86,1)" font-family='"Liberation Sans", sans-serif' font-size="8.8" fill="#2a2ae8" stroke="#2a2ae8" stroke-width="0.25">6</text>
<text x="450.60" y="451.60" text-anchor="end" font-family='"Liberation Sans", sans-serif' font-weight="bold" font-size="5.6" fill="#2a2ae8">10</text>
<text transform="translate(450.80,449.60) scale(0.86,1)" font-family='"Liberation Sans", sans-serif' font-size="8.8" fill="#2a2ae8" stroke="#2a2ae8" stroke-width="0.25">7<tspan dx="1">.2</tspan></text>
<text x="299.10" y="293.40" font-family='"Liberation Sans", sans-serif' font-size="10.6" fill="#dc2846">-ve-pop.</text>
<text x="299.50" y="303.20" font-family='"Liberation Sans", sans-serif' font-size="10.6" fill="#dc2846">53.3%</text>
<text x="410.71" y="293.40" font-family='"Liberation Sans", sans-serif' font-size="10.6" fill="#dc2846">+ve-pop.</text>
<text x="411.31" y="303.20" font-family='"Liberation Sans", sans-serif' font-size="10.6" fill="#dc2846">46.7%</text>
<text x="374.6" y="276.5" text-anchor="middle" font-family='"Liberation Sans", sans-serif' font-weight="bold" font-size="12.7" fill="#000">ACE 1 μM + HKL</text>
<path d="M188.1,538.0 V751.2 H558.4" fill="none" stroke="#3c3c3c" stroke-width="1.4"/>
<line x1="179" y1="751.20" x2="188.1" y2="751.20" stroke="#3c3c3c" stroke-width="1.4"/>
<text transform="translate(175.6,755.20) scale(1.11,1)" text-anchor="end" font-family='"Liberation Sans", sans-serif' font-size="11.4" fill="#111">0</text>
<line x1="179" y1="697.90" x2="188.1" y2="697.90" stroke="#3c3c3c" stroke-width="1.4"/>
<text transform="translate(175.6,701.90) scale(1.11,1)" text-anchor="end" font-family='"Liberation Sans", sans-serif' font-size="11.4" fill="#111">20</text>
<line x1="179" y1="644.60" x2="188.1" y2="644.60" stroke="#3c3c3c" stroke-width="1.4"/>
<text transform="translate(175.6,648.60) scale(1.11,1)" text-anchor="end" font-family='"Liberation Sans", sans-serif' font-size="11.4" fill="#111">40</text>
<line x1="179" y1="591.30" x2="188.1" y2="591.30" stroke="#3c3c3c" stroke-width="1.4"/>
<text transform="translate(175.6,595.30) scale(1.11,1)" text-anchor="end" font-family='"Liberation Sans", sans-serif' font-size="11.4" fill="#111">60</text>
<line x1="179" y1="538.00" x2="188.1" y2="538.00" stroke="#3c3c3c" stroke-width="1.4"/>
<text transform="translate(175.6,542.00) scale(1.11,1)" text-anchor="end" font-family='"Liberation Sans", sans-serif' font-size="11.4" fill="#111">80</text>
<text transform="translate(140.9,642.45) scale(1.1,1) rotate(-90)" text-anchor="middle" font-family='"Liberation Sans", sans-serif' font-size="13.2" fill="#111">Ki-67 positive cell ( % )</text>
<line x1="234.0" y1="710.6" x2="234.0" y2="714.1" stroke="#8a3a2a" stroke-width="1.3"/>
<line x1="222.5" y1="710.6" x2="245.5" y2="710.6" stroke="#8a3a2a" stroke-width="1.3"/>
<rect x="211.00" y="714.10" width="46.00" height="37.10" fill="#a0553c"/>
<path d="M212.50,751.2 V715.60 H255.50 V751.2" fill="none" stroke="#6e1c05" stroke-width="3.0"/>
<line x1="234.0" y1="751.2" x2="234.0" y2="759.7" stroke="#3c3c3c" stroke-width="1.4"/>
<text transform="translate(234.60,708) scale(1.09,1)" text-anchor="middle" font-family='"Liberation Sans", sans-serif' font-size="18.3" fill="#111">a</text>
<line x1="303.5" y1="701.3" x2="303.5" y2="705.1" stroke="#7a2a44" stroke-width="1.3"/>
<line x1="292.0" y1="701.3" x2="315.0" y2="701.3" stroke="#7a2a44" stroke-width="1.3"/>
<rect x="280.50" y="705.10" width="46.00" height="46.10" fill="#9c3a5c"/>
<path d="M282.00,751.2 V706.60 H325.00 V751.2" fill="none" stroke="#5c0a2e" stroke-width="3.0"/>
<line x1="303.5" y1="751.2" x2="303.5" y2="759.7" stroke="#3c3c3c" stroke-width="1.4"/>
<text transform="translate(304.65,698.5) scale(1.09,1)" text-anchor="middle" font-family='"Liberation Sans", sans-serif' font-size="18.3" fill="#111">b</text>
<line x1="372.9" y1="671.8" x2="372.9" y2="677.9" stroke="#3c5a1a" stroke-width="1.3"/>
<line x1="361.4" y1="671.8" x2="384.4" y2="671.8" stroke="#3c5a1a" stroke-width="1.3"/>
<rect x="349.90" y="677.90" width="46.00" height="73.30" fill="#5f7a2a"/>
<path d="M351.40,751.2 V679.40 H394.40 V751.2" fill="none" stroke="#2c4a0a" stroke-width="3.0"/>
<line x1="372.9" y1="751.2" x2="372.9" y2="759.7" stroke="#3c3c3c" stroke-width="1.4"/>
<text transform="translate(372.60,670.6) scale(1.09,1)" text-anchor="middle" font-family='"Liberation Sans", sans-serif' font-size="18.3" fill="#111">c</text>
<line x1="442.0" y1="575.1" x2="442.0" y2="580.9" stroke="#1d5a45" stroke-width="1.3"/>
<line x1="430.5" y1="575.1" x2="453.5" y2="575.1" stroke="#1d5a45" stroke-width="1.3"/>
<rect x="419.00" y="580.90" width="46.00" height="170.30" fill="#2e8466"/>
<path d="M420.50,751.2 V582.40 H463.50 V751.2" fill="none" stroke="#0d4a35" stroke-width="3.0"/>
<line x1="442.0" y1="751.2" x2="442.0" y2="759.7" stroke="#3c3c3c" stroke-width="1.4"/>
<text transform="translate(441.80,572.2) scale(1.09,1)" text-anchor="middle" font-family='"Liberation Sans", sans-serif' font-size="18.3" fill="#111">e</text>
<line x1="511.3" y1="623.3" x2="511.3" y2="628.1" stroke="#2a4670" stroke-width="1.3"/>
<line x1="499.8" y1="623.3" x2="522.8" y2="623.3" stroke="#2a4670" stroke-width="1.3"/>
<rect x="488.30" y="628.10" width="46.00" height="123.10" fill="#3f66a0"/>
<path d="M489.80,751.2 V629.60 H532.80 V751.2" fill="none" stroke="#1f3a66" stroke-width="3.0"/>
<line x1="511.3" y1="751.2" x2="511.3" y2="759.7" stroke="#3c3c3c" stroke-width="1.4"/>
<text transform="translate(509.45,621.2) scale(1.09,1)" text-anchor="middle" font-family='"Liberation Sans", sans-serif' font-size="18.3" fill="#111">d</text>
<path d="M188.1,751.2 H558.4" fill="none" stroke="#3c3c3c" stroke-width="1.4"/>
<text transform="translate(237.6,772.5) scale(1.11,1) rotate(-45)" text-anchor="end" font-family='"Liberation Sans", sans-serif' font-size="13.4" fill="#111">Control</text>
<text transform="translate(307.3,772.5) scale(1.11,1) rotate(-45)" text-anchor="end" font-family='"Liberation Sans", sans-serif' font-size="13.4" fill="#111">HKL</text>
<text transform="translate(376.3,772.5) scale(1.11,1) rotate(-45)" text-anchor="end" font-family='"Liberation Sans", sans-serif' font-size="13.4" fill="#111">ACE 0.5 μM</text>
<text transform="translate(445.8,772.5) scale(1.11,1) rotate(-45)" text-anchor="end" font-family='"Liberation Sans", sans-serif' font-size="13.4" fill="#111">ACE 1 μM</text>
<text transform="translate(514.8,772.5) scale(1.11,1) rotate(-45)" text-anchor="end" font-family='"Liberation Sans", sans-serif' font-size="13.4" fill="#111">ACE 1 μM+ HKL</text>
<rect x="681.1" y="782.1" width="1.9" height="1.8" fill="#7fe8ee" opacity="0.5"/>
<rect x="682.2" y="786" width="2" height="1" fill="#7fe8ee" opacity="0.4"/>
<rect x="681.1" y="787.8" width="1.9" height="1.1" fill="#7fe8ee" opacity="0.3"/>
</svg>
</body></html>
